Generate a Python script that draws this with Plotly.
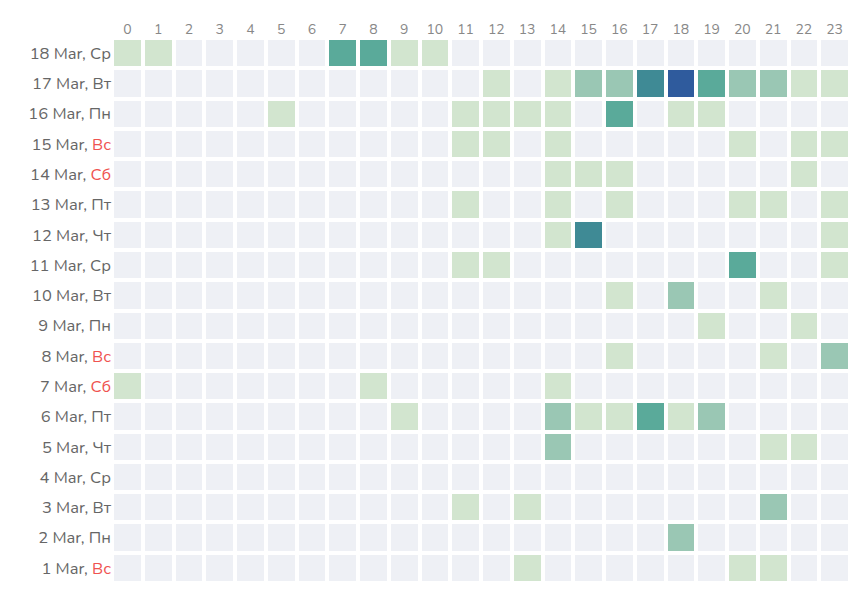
import plotly.graph_objects as go

hours = list(range(24))
days = ["1 Mar", "2 Mar", "3 Mar", "4 Mar", "5 Mar", "6 Mar", "7 Mar", "8 Mar", "9 Mar",
        "10 Mar", "11 Mar", "12 Mar", "13 Mar", "14 Mar", "15 Mar", "16 Mar", "17 Mar", "18 Mar"]
weekdays = ["Вс", "Пн", "Вт", "Ср", "Чт", "Пт", "Сб", "Вс", "Пн",
            "Вт", "Ср", "Чт", "Пт", "Сб", "Вс", "Пн", "Вт", "Ср"]
# nonzero activity levels per day: {hour: level}
activity = [
    {13: 1, 20: 1, 21: 1},
    {18: 2},
    {11: 1, 13: 1, 21: 2},
    {},
    {14: 2, 21: 1, 22: 1},
    {9: 1, 14: 2, 15: 1, 16: 1, 17: 3, 18: 1, 19: 2},
    {0: 1, 8: 1, 14: 1},
    {16: 1, 21: 1, 23: 2},
    {19: 1, 22: 1},
    {16: 1, 18: 2, 21: 1},
    {11: 1, 12: 1, 20: 3, 23: 1},
    {14: 1, 15: 4, 23: 1},
    {11: 1, 14: 1, 16: 1, 20: 1, 21: 1, 23: 1},
    {14: 1, 15: 1, 16: 1, 22: 1},
    {11: 1, 12: 1, 14: 1, 20: 1, 22: 1, 23: 1},
    {5: 1, 11: 1, 12: 1, 13: 1, 14: 1, 16: 3, 18: 1, 19: 1},
    {12: 1, 14: 1, 15: 2, 16: 2, 17: 4, 18: 5, 19: 3, 20: 2, 21: 2, 22: 1, 23: 1},
    {0: 1, 1: 1, 7: 3, 8: 3, 9: 1, 10: 1},
]
z = [[a.get(h, 0) for h in hours] for a in activity]

colors = ["#eef0f5", "#d2e5cf", "#9ac7b4", "#5aaa9a", "#3f8a95", "#2f5b9d"]
cs = []
n = len(colors)
for i, c in enumerate(colors):
    cs.append([i / n, c]); cs.append([(i + 1) / n, c])

labels = []
for d, w in zip(days, weekdays):
    if w in ("Сб", "Вс"):
        labels.append(f"{d}, <span style='color:#ef5350'>{w}</span>")
    else:
        labels.append(f"{d}, {w}")

fig = go.Figure(go.Heatmap(
    z=z, x=hours, y=list(range(len(days))), colorscale=cs, zmin=-0.5, zmax=5.5,
    xgap=4, ygap=4, showscale=False, hoverongaps=False))
fig.update_layout(
    width=842, height=575, margin=dict(l=104, r=0, t=30, b=0),
    paper_bgcolor="white", plot_bgcolor="white",
    font=dict(family="Nunito, Lato, sans-serif", size=14, color="#666"),
    xaxis=dict(side="top", tickmode="array", tickvals=hours, ticktext=[str(h) for h in hours],
               showgrid=False, zeroline=False, ticks="", tickfont=dict(size=14, color="#888")),
    yaxis=dict(tickmode="array", tickvals=list(range(len(days))), ticktext=labels,
               showgrid=False, zeroline=False, ticks="", tickfont=dict(size=16.5, color="#666")),
)
fig.write_html("out.html")
